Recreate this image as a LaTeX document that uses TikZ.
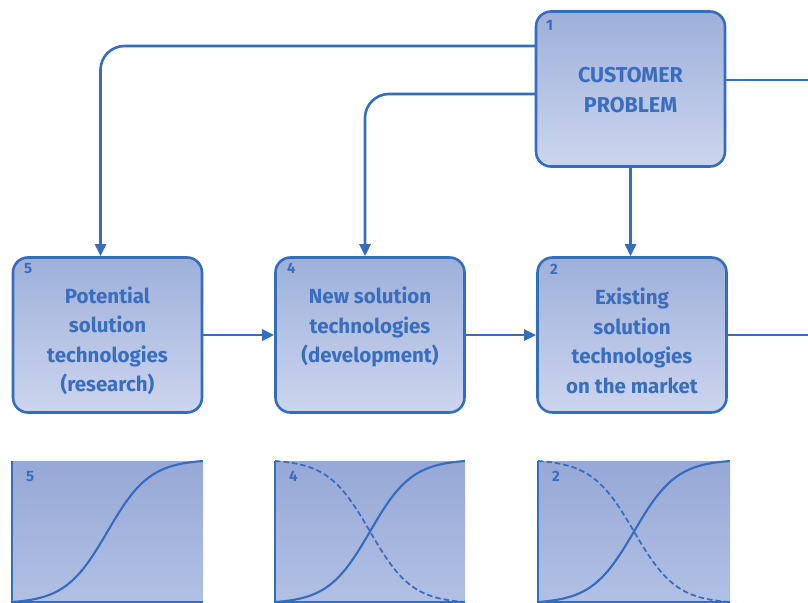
\documentclass[tikz,border=0pt]{standalone}
\usepackage{fontspec}
\setmainfont{Fira Sans}
\usetikzlibrary{arrows.meta}
\definecolor{lineblue}{RGB}{52,108,190}
\definecolor{textblue}{RGB}{58,110,188}
\definecolor{boxtop}{RGB}{158,176,218}
\definecolor{boxbot}{RGB}{204,213,238}
\definecolor{paneltop}{RGB}{150,168,214}
\definecolor{panelbot}{RGB}{178,192,228}
\tikzset{
  stagebox/.style={draw=lineblue, line width=2.6pt, rounded corners=15pt,
    top color=boxtop, bottom color=boxbot, minimum width=189pt, minimum height=155pt, inner sep=0pt},
  caption/.style={text=textblue, align=center, font=\fontsize{20.5}{29.5}\selectfont\bfseries},
  tag/.style={text=textblue, font=\fontsize{15}{15}\selectfont\bfseries, anchor=north west, inner sep=0pt},
  conn/.style={draw=lineblue, line width=2.6pt, rounded corners=24pt},
  arr/.style={-{Triangle[length=12pt,width=11pt]}},
  panel/.style={top color=paneltop, bottom color=panelbot, draw=none},
  curve/.style={draw=lineblue, line width=2.1pt},
  dashcurve/.style={draw=lineblue, line width=1.7pt, dash pattern=on 5.5pt off 3pt}
}
\begin{document}
\begin{tikzpicture}[x=1pt,y=-1pt]
\useasboundingbox (0,0) rectangle (808,602);

% stage boxes
\node[stagebox] (cp) at (630.5,89) {};
\node[stagebox] (b5) at (107.5,335) {};
\node[stagebox] (b4) at (370,335) {};
\node[stagebox] (b2) at (632,335) {};

% box captions
\node[caption, font=\fontsize{21.5}{29.5}\selectfont\bfseries] (cpt) at (630.5,90) {CUSTOMER\\PROBLEM};
\node[caption] (b5t) at (107.5,341) {Potential\\solution\\technologies\\(research)};
\node[caption] (b4t) at (370,327) {New solution\\technologies\\(development)};
\node[caption] (b2t) at (632,341) {Existing\\solution\\technologies\\on the market};

\node[tag] (t1) at (546,20) {1};
\node[tag] (t5) at (24,263) {5};
\node[tag] (t4) at (287,263) {4};
\node[tag] (t2) at (550,264) {2};

% connectors
\coordinate (cpA) at (536,46);
\coordinate (cpB) at (536,94);
\coordinate (outA) at (808,80);
\coordinate (outB) at (808,335);
\draw[conn,arr] (cpA) -| ([xshift=-7pt]b5.north);
\draw[conn,arr] (cpB) -| ([xshift=-5pt]b4.north);
\draw[conn,arr] (cp.south) -- (cp.south |- b2.north);
\draw[conn] (cp.east |- outA) -- (outA);
\draw[conn] (b2.east) -- (outB);
\draw[conn,arr] (b5.east) -- (b4.west);
\draw[conn,arr] (b4.east) -- (b2.west);

% adoption panels with S-curves
\foreach \n/\xl/\xr/\d in {5/12/203/0, 4/275/465/1, 2/538/730/1}{
  \path[panel] (\xl,461) rectangle (\xr,602);
  \draw[lineblue, line width=1.2pt] (\xl,461) -- (\xl,602) -- (\xr,602);
  \node[tag] (p\n) at (\xl+14,471) {\n};
  \draw[curve] plot[domain=0:1, samples=80, smooth]
    ({\xl+\x*(\xr-\xl)}, {602-141*(1/(1+exp(-9*(\x-0.5)))-0.0110)/0.9780});
  \ifnum\d=1
    \draw[dashcurve] plot[domain=0:1, samples=80, smooth]
      ({\xl+\x*(\xr-\xl)}, {461+141*(1/(1+exp(-9*(\x-0.5)))-0.0110)/0.9780});
  \fi
}
\end{tikzpicture}
\end{document}
